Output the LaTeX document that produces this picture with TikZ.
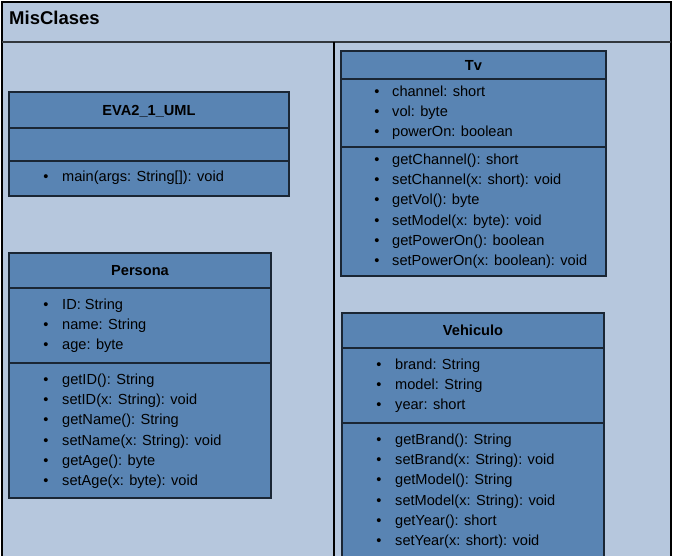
\documentclass[tikz,border=0pt]{standalone}
\usepackage{fontspec}
\setmainfont{Liberation Sans}
\definecolor{pkgbg}{RGB}{182,199,221}
\definecolor{clsfill}{RGB}{89,132,179}
\definecolor{clsline}{RGB}{26,38,52}
\definecolor{hdrline}{RGB}{50,55,60}
\begin{document}
\begin{tikzpicture}[x=1pt,y=-1pt,
  compart/.style={draw=clsline, line width=1.3pt, fill=clsfill, anchor=north west, inner sep=0pt, outer sep=0pt},
  ctitle/.style={font=\fontsize{14.6}{17}\selectfont\bfseries, text height=10.5pt, text depth=0pt},
  itemtxt/.style={font=\fontsize{14.6}{17}\selectfont, anchor=base west, inner sep=0pt},
  bul/.style={font=\fontsize{14.6}{17}\selectfont, anchor=base, inner sep=0pt}]
\useasboundingbox (0,0) rectangle (675,556);
\clip (0,0) rectangle (675,556);
% package frame
\fill[white] (0,0) rectangle (675,556);
\draw[black, line width=1.3pt, fill=pkgbg] (2,2) rectangle (671,570);
\node[anchor=base west, inner sep=0pt, font=\fontsize{18.5}{22}\selectfont\bfseries] (pkgname) at (9,25) {MisClases};
\coordinate (hl) at (2,42);
\coordinate (hr) at (671,42);
\draw[hdrline, line width=1.6pt] (hl) -- (hr);
\coordinate (dt) at (334,42);
\coordinate (db) at (334,570);
\draw[black, line width=1.3pt] (dt) -- (db);

% EVA2_1_UML
\node[compart, minimum width=280pt, minimum height=36pt, ctitle] (evat) at (9,92) {EVA2\_1\_UML};
\node[compart, minimum width=280pt, minimum height=33pt] (evaa) at (evat.south west) {};
\node[compart, minimum width=280pt, minimum height=35pt] (evam) at (evaa.south west) {};
\node[bul] (evab0) at (46,181.5) {•};
\node[itemtxt] (evai0) at (62,181.5) {main(args: String[]): void};

% Persona
\node[compart, minimum width=262pt, minimum height=35pt, ctitle] (pert) at (9,253) {Persona};
\node[compart, minimum width=262pt, minimum height=75pt] (pera) at (pert.south west) {};
\node[compart, minimum width=262pt, minimum height=135pt] (perm) at (pera.south west) {};
\foreach \t [count=\i from 0] in {{ID: String},{name: String},{age: byte}}{
  \node[bul] (perab\i) at (46,309.5+20*\i) {•};
  \node[itemtxt] (perat\i) at (62,309.5+20*\i) {\t};
}
\foreach \t [count=\i from 0] in {{getID(): String},{setID(x: String): void},{getName(): String},{setName(x: String): void},{getAge(): byte},{setAge(x: byte): void}}{
  \node[bul] (permb\i) at (46,384.5+20.2*\i) {•};
  \node[itemtxt] (permt\i) at (62,384.5+20.2*\i) {\t};
}

% Tv
\node[compart, minimum width=265pt, minimum height=28pt, ctitle] (tvt) at (341,51) {Tv};
\node[compart, minimum width=265pt, minimum height=68pt] (tva) at (tvt.south west) {};
\node[compart, minimum width=265pt, minimum height=129pt] (tvm) at (tva.south west) {};
\foreach \t [count=\i from 0] in {{channel: short},{vol: byte},{powerOn: boolean}}{
  \node[bul] (tvab\i) at (377,96.5+20*\i) {•};
  \node[itemtxt] (tvat\i) at (392,96.5+20*\i) {\t};
}
\foreach \t [count=\i from 0] in {{getChannel(): short},{setChannel(x: short): void},{getVol(): byte},{setModel(x: byte): void},{getPowerOn(): boolean},{setPowerOn(x: boolean): void}}{
  \node[bul] (tvmb\i) at (377,164.5+20.2*\i) {•};
  \node[itemtxt] (tvmt\i) at (392,164.5+20.2*\i) {\t};
}

% Vehiculo
\node[compart, minimum width=262pt, minimum height=35pt, ctitle] (veht) at (342,313) {Vehiculo};
\node[compart, minimum width=262pt, minimum height=75pt] (veha) at (veht.south west) {};
\node[compart, minimum width=262pt, minimum height=150pt] (vehm) at (veha.south west) {};
\foreach \t [count=\i from 0] in {{brand: String},{model: String},{year: short}}{
  \node[bul] (vehab\i) at (379,369.5+20*\i) {•};
  \node[itemtxt] (vehat\i) at (395,369.5+20*\i) {\t};
}
\foreach \t [count=\i from 0] in {{getBrand(): String},{setBrand(x: String): void},{getModel(): String},{setModel(x: String): void},{getYear(): short},{setYear(x: short): void}}{
  \node[bul] (vehmb\i) at (379,444.5+20.2*\i) {•};
  \node[itemtxt] (vehmt\i) at (395,444.5+20.2*\i) {\t};
}
\end{tikzpicture}
\end{document}
